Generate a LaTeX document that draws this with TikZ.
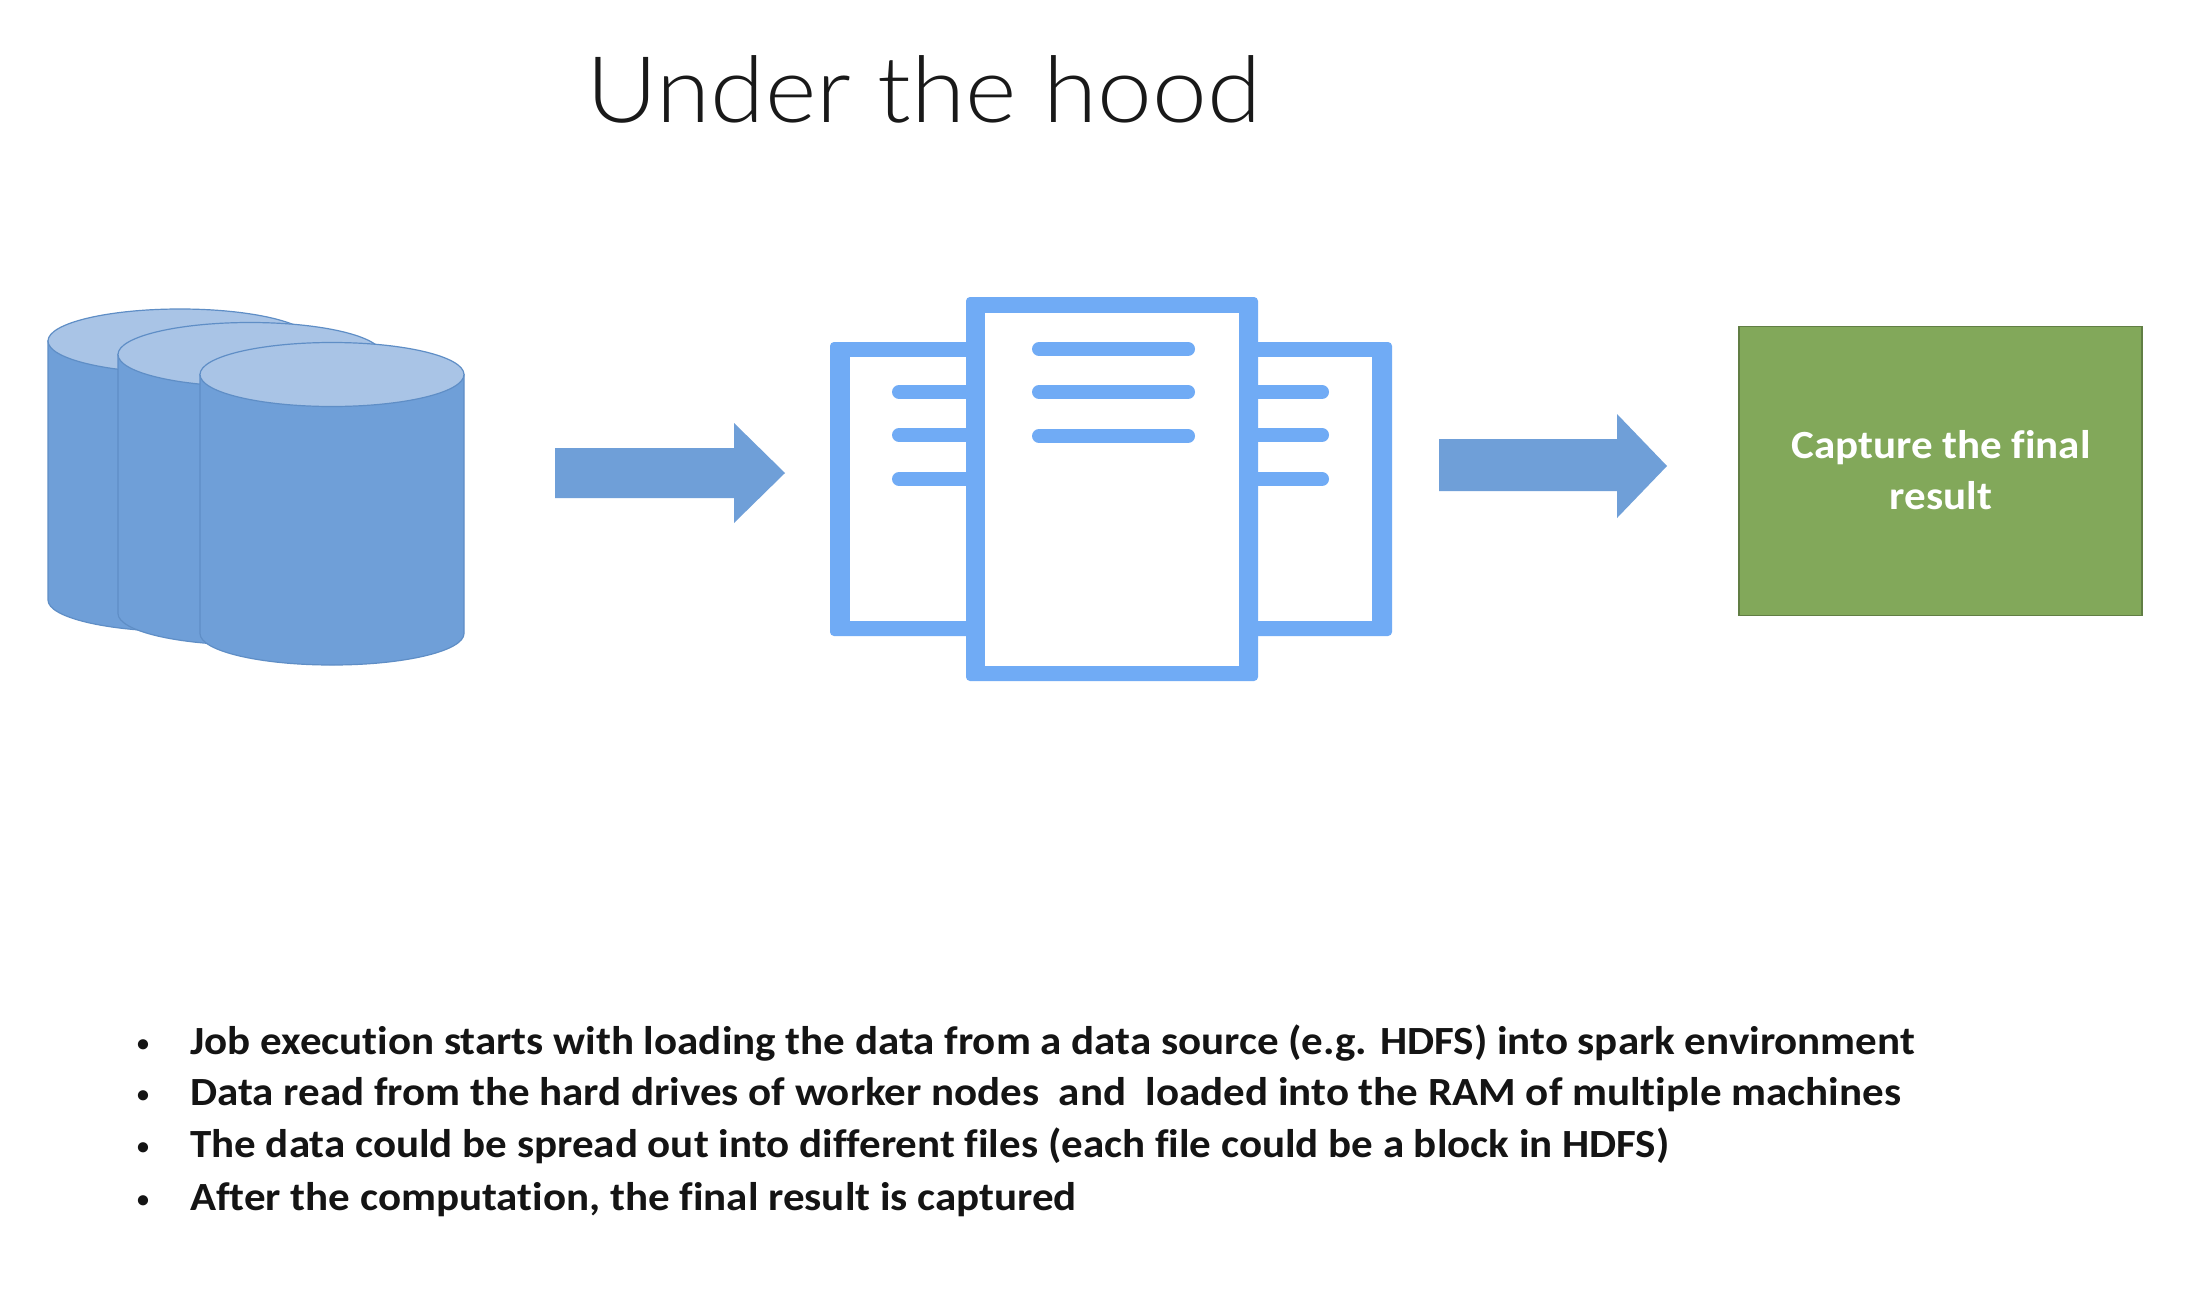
\documentclass[tikz,border=0pt]{standalone}
\usepackage{fontspec}
\setmainfont{Carlito}
\newfontfamily\bodyfont[FakeStretch=1.075,Ligatures=NoCommon]{Carlito}
\newfontfamily\titlefont[FakeStretch=1.069]{Lato Light}
\begin{document}
\begin{tikzpicture}[x=1pt,y=-1pt,
  cylbody/.style={fill=cylblue,draw=cylline,line width=1.2pt},
  cyltop/.style={fill=cyllight,draw=cylline,line width=1.2pt},
  blockarrow/.style={fill=cylblue,draw=none},
  icon/.style={fill=iconblue,draw=none,rounded corners=4pt},
  iconinner/.style={fill=white,draw=none},
  iconline/.style={draw=iconblue,line width=14pt,line cap=round},
  bodytext/.style={anchor=base west,inner sep=0pt,font=\bodyfont\fontsize{40}{46}\selectfont\bfseries,text=black!92},
  bullet/.style={anchor=base,inner sep=0pt,font=\fontsize{24}{30}\selectfont\bfseries,text=black!92}]
\definecolor{cylblue}{HTML}{6F9FD8}
\definecolor{cyllight}{HTML}{A9C4E6}
\definecolor{cylline}{HTML}{5F8EC6}
\definecolor{iconblue}{HTML}{70ABF5}
\definecolor{boxgreen}{HTML}{82A85A}
\useasboundingbox (0,0) rectangle (2186,1290);
\fill[white] (0,0) rectangle (2186,1290);
% title
\node[anchor=base,inner sep=0pt,font=\titlefont\fontsize{92}{110}\selectfont,text=black!90] (title) at (924,122) {Under the hood};
% cylinders
\foreach \cx/\cy in {180/341,250/354.5,332/374.5}{
  \path[cylbody] (\cx-132,\cy) -- (\cx-132,\cy+259) arc[start angle=180,end angle=0,x radius=132,y radius=31.5] -- (\cx+132,\cy) -- cycle;
  \path[cyltop] (\cx,\cy) ellipse[x radius=132,y radius=32];
}
% arrow 1
\fill[blockarrow] (555,448) -- (734,448) -- (734,423) -- (785,473) -- (734,523) -- (734,498) -- (555,498) -- cycle;
% documents
\path[icon] (830,342) rectangle (1392,636);
\path[iconinner] (850,357) rectangle (1372,621);
\foreach \y in {392,435,479}{
  \draw[iconline] (899,\y) -- (980,\y);
  \draw[iconline] (1250,\y) -- (1322,\y);
}
\path[icon] (966,297) rectangle (1258,681);
\path[iconinner] (985,313) rectangle (1239,666);
\foreach \y in {349,392,436}{
  \draw[iconline] (1039,\y) -- (1188,\y);
}
% arrow 2
\fill[blockarrow] (1439,439) -- (1617,439) -- (1617,414) -- (1667,466) -- (1617,518) -- (1617,491) -- (1439,491) -- cycle;
% result
\node[fill=boxgreen,draw=black!25!boxgreen,line width=1.5pt,minimum width=403pt,minimum height=289pt,anchor=north west,inner sep=0pt] (result) at (1738,325.5) {};
\node[align=center,inner sep=0pt,text=white,font=\bodyfont\fontsize{40}{51}\selectfont\bfseries] (resulttext) at (1941,470) {Capture the final\\result};
% bullets
\node[bullet] (b1) at (143,1051) {•};
\node[bullet] (b2) at (143,1102) {•};
\node[bullet] (b3) at (143,1154) {•};
\node[bullet] (b4) at (143,1207) {•};
\node[bodytext] (t1) at (190,1054) {Job execution starts with loading the data from a data source (e.g. HDFS) into spark environment};
\node[bodytext] (t2) at (190,1105) {Data read from the hard drives of worker nodes \ and \ loaded into the RAM of multiple machines};
\node[bodytext] (t3) at (190,1157) {The data could be spread out into different files (each file could be a block in HDFS)};
\node[bodytext] (t4) at (190,1210) {After the computation, the final result is captured};
\end{tikzpicture}
\end{document}
